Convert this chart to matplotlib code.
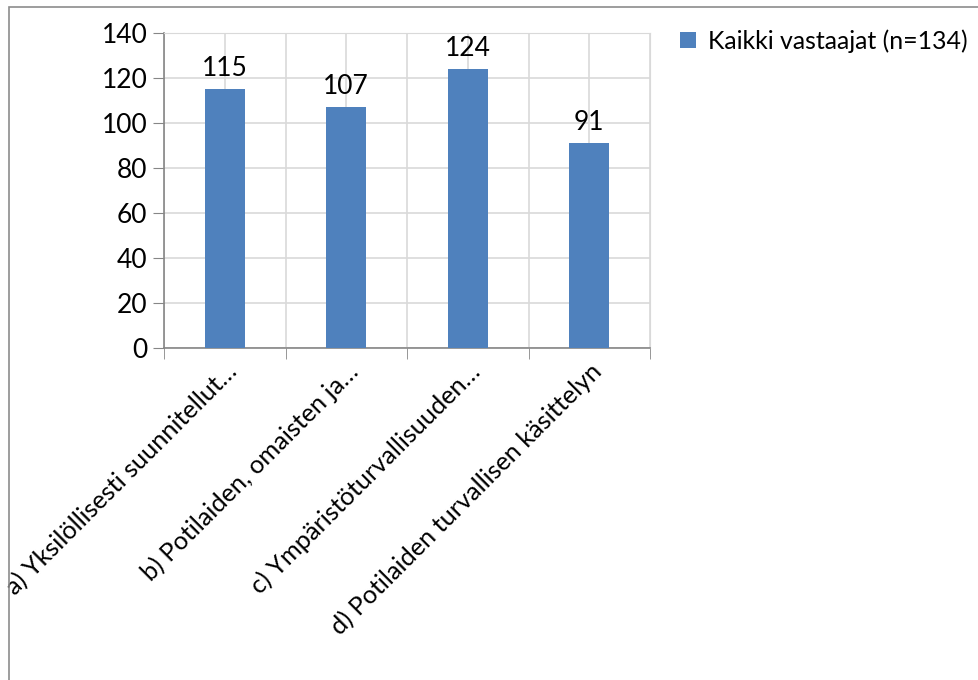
import numpy as np
import matplotlib.pyplot as plt
from matplotlib.patches import Rectangle

plt.rcParams['font.family'] = ['Lato', 'DejaVu Sans']

categories = [
    "a) Yksilöllisesti suunnitellut…",
    "b) Potilaiden, omaisten ja…",
    "c) Ympäristöturvallisuuden…",
    "d) Potilaiden turvallisen käsittelyn",
]
values = [115, 107, 124, 91]
series_name = "Kaikki vastaajat (n=134)"
y_ticks = [0, 20, 40, 60, 80, 100, 120, 140]

bar_color = '#4F81BD'
grid_color = '#D9D9D9'
axis_color = '#868686'

fig = plt.figure(figsize=(9.79, 6.8), dpi=100)
ax = fig.add_axes([0.1675, 0.488, 0.4965, 0.4635])

x = np.arange(len(categories))
bars = ax.bar(x, values, width=0.33, color=bar_color, label=series_name, zorder=3)
for rect, v in zip(bars, values):
    ax.annotate(str(v), (rect.get_x() + rect.get_width() / 2, v),
                xytext=(0, 6), textcoords='offset points',
                ha='center', va='bottom', fontsize=19)

ax.set_xlim(-0.5, len(categories) - 0.5)
ax.set_ylim(0, 140)
ax.set_yticks(y_ticks)
ax.set_yticklabels([str(t) for t in y_ticks], fontsize=19)

ax.set_xticks(x)
ax.set_xticklabels(categories, rotation=45, ha='right', rotation_mode='anchor', fontsize=18.2)
ax.set_xticks(np.arange(-0.5, len(categories), 1.0), minor=True)
ax.tick_params(axis='x', which='major', length=0, pad=8)
ax.tick_params(axis='x', which='minor', length=8, color=axis_color, direction='out')
ax.tick_params(axis='y', length=8, color=axis_color, direction='out', pad=4)

# light grid at every half category and every y tick
ax.grid(True, axis='y', color=grid_color, linewidth=1.2, zorder=0)
ax.grid(True, axis='x', which='both', color=grid_color, linewidth=1.2, zorder=0)
ax.set_axisbelow(True)

for side in ['top', 'right']:
    ax.spines[side].set_color(grid_color)
for side in ['left', 'bottom']:
    ax.spines[side].set_color(axis_color)
    ax.spines[side].set_linewidth(1.2)

leg = fig.legend(handles=[bars], labels=[series_name], loc='upper left',
                 bbox_to_anchor=(0.672, 0.99), frameon=False, fontsize=17.9,
                 handlelength=0.65, handleheight=0.65, handletextpad=0.45)

# chart frame
fig.patches.append(Rectangle((9 / 979, -0.1), 1.1, 1 - 7 / 680 + 0.1,
                             transform=fig.transFigure, fill=False,
                             edgecolor='#8C8C8C', linewidth=1.2))

fig.savefig('out.png', dpi=100)
